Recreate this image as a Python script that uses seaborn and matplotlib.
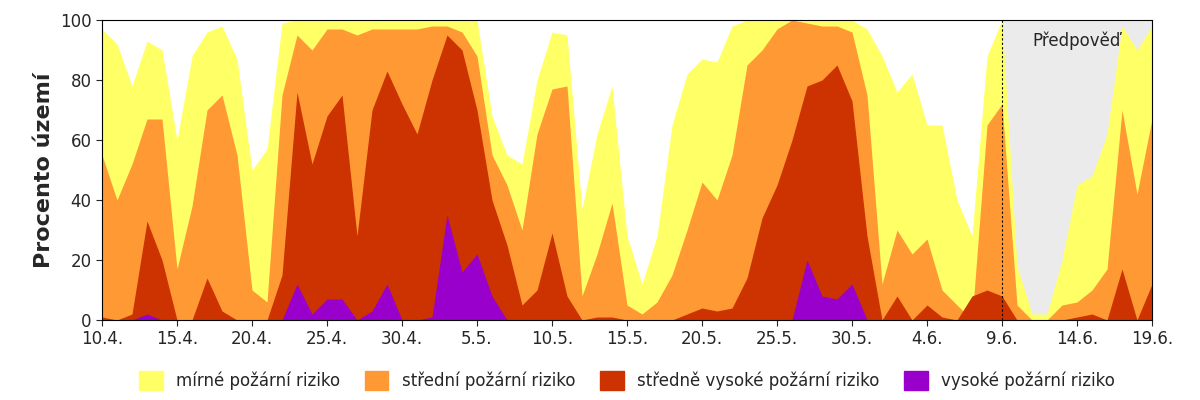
import numpy as np
import pandas as pd
import seaborn as sns
import matplotlib.pyplot as plt
from matplotlib.patches import Patch

dates = pd.date_range("2020-04-10", "2020-06-19", freq="D")

# cumulative shares (% of territory)
mirne = [97, 92, 78, 93, 90, 60, 88, 96, 98, 87, 50, 57, 99, 100, 100, 100, 100, 100, 100, 100,
         100, 100, 100, 100, 100, 100, 68, 55, 52, 80, 96, 95, 37, 62, 78, 28, 12, 28, 65, 82,
         87, 86, 98, 100, 100, 100, 100, 100, 100, 100, 100, 97, 88, 76, 82, 65, 65, 40, 28, 88,
         100, 18, 2, 2, 20, 45, 48, 62, 98, 90, 98]
stredni = [55, 40, 52, 67, 67, 17, 38, 70, 75, 55, 10, 6, 75, 95, 90, 97, 97, 95, 97, 97,
           97, 97, 98, 98, 96, 88, 55, 45, 30, 62, 77, 78, 8, 22, 39, 5, 2, 6, 15, 30,
           46, 40, 55, 85, 90, 97, 100, 99, 98, 98, 96, 75, 12, 30, 22, 27, 10, 5, 0, 65,
           72, 5, 0, 0, 5, 6, 10, 17, 70, 42, 67]
stredne_vysoke = [1, 0, 2, 33, 20, 0, 0, 14, 3, 0, 0, 0, 15, 76, 52, 68, 75, 28, 70, 83,
                  72, 62, 80, 95, 90, 70, 40, 25, 5, 10, 29, 8, 0, 1, 1, 0, 0, 0, 0, 2,
                  4, 3, 4, 14, 34, 45, 60, 78, 80, 85, 73, 28, 0, 8, 0, 5, 1, 0, 8, 10,
                  8, 0, 0, 0, 0, 1, 2, 0, 17, 0, 12]
vysoke = [0, 0, 0, 2, 0, 0, 0, 0, 0, 0, 0, 0, 0, 12, 2, 7, 7, 0, 3, 12,
          0, 0, 1, 35, 16, 22, 8, 0, 0, 0, 0, 0, 0, 0, 0, 0, 0, 0, 0, 0,
          0, 0, 0, 0, 0, 0, 0, 20, 8, 7, 12, 0, 0, 0, 0, 0, 0, 0, 0, 0,
          0, 0, 0, 0, 0, 0, 0, 0, 0, 0, 0]

labels = ["mírné požární riziko", "střední požární riziko",
          "středně vysoké požární riziko", "vysoké požární riziko"]
colors = ["#FFFF66", "#FF9933", "#CC3300", "#9900CC"]
series = [mirne, stredni, stredne_vysoke, vysoke]

sns.set_style("white")
plt.rcParams['font.family'] = ['DejaVu Sans']
fig, ax = plt.subplots(figsize=(12, 4), dpi=100)

ax.axvspan(dates[60], dates[-1], color="#EBEBEB", lw=0)
for vals, c in zip(series, colors):
    ax.fill_between(dates, 0, vals, color=c, lw=0)
ax.axvline(dates[60], color="black", ls=(0, (2, 2)), lw=0.8)
ax.text(dates[62], 93, "Předpověď", fontsize=12, va="center")

ax.set_xlim(dates[0], dates[-1])
ax.set_ylim(0, 100)
ticks = dates[::5]
ax.set_xticks(ticks)
ax.set_xticklabels([f"{d.day}.{d.month}." for d in ticks], fontsize=12)
ax.set_yticks(range(0, 101, 20))
ax.tick_params(axis="y", labelsize=12)
ax.tick_params(axis="both", direction="out", length=4, left=True, bottom=True)
ax.set_ylabel("Procento území", fontsize=16, fontweight="bold")
for s in ax.spines.values():
    s.set_color("black")

handles = [Patch(color=c, label=l) for c, l in zip(colors, labels)]
ax.legend(handles=handles, loc="upper center", bbox_to_anchor=(0.5, -0.12), ncol=4,
          frameon=False, fontsize=12, handlelength=1.4, handleheight=1.4, columnspacing=1.5)

plt.subplots_adjust(left=0.085, right=0.96, top=0.95, bottom=0.2)
plt.savefig("out.png")
